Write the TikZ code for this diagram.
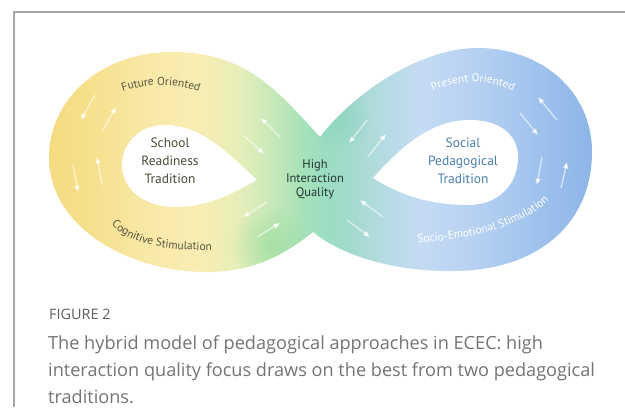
\documentclass[tikz,border=0pt]{standalone}
\usepackage{fontspec}
\setmainfont{Open Sans}
\newfontfamily\lblfont{PT Sans}
\usetikzlibrary{arrows.meta,decorations.text,fadings}

% band colours, left (yellow) to right (blue)
\definecolor{b0}{HTML}{F5DA80}
\definecolor{b1}{HTML}{F6E08D}
\definecolor{b2}{HTML}{F8E9A8}
\definecolor{b3}{HTML}{F8EDB3}
\definecolor{b4}{HTML}{E6EEB9}
\definecolor{b5}{HTML}{C4E8BA}
\definecolor{b6}{HTML}{A8E2B8}
\definecolor{b7}{HTML}{9CDDC2}
\definecolor{b8}{HTML}{A3DACD}
\definecolor{b9}{HTML}{B3DBE0}
\definecolor{b10}{HTML}{C5DBF4}
\definecolor{b11}{HTML}{B8D2F2}
\definecolor{b12}{HTML}{A2C4EE}
\definecolor{b13}{HTML}{8AB3E6}
\definecolor{framegray}{HTML}{A6A6A6}
\definecolor{olivetext}{HTML}{4B4B3B}
\definecolor{arctext}{HTML}{55553F}
\definecolor{slatetext}{HTML}{243535}
\definecolor{bluetext}{HTML}{4C7DB0}
\definecolor{labelgray}{HTML}{5E5E5E}
\definecolor{captiongray}{HTML}{747474}
\definecolor{spotgreen}{HTML}{90DC98}
\definecolor{spotteal}{HTML}{86D2BA}

\tikzfading[name=softspot, inner color=transparent!0, outer color=transparent!100]

\begin{document}
\begin{tikzpicture}[x=1bp,y=-1bp,
  flowarrow/.style={white, draw opacity=0.6, line width=1.3bp,
    -{Triangle[length=6.5bp,width=5bp]}},
  lobelabel/.style={font=\lblfont\fontsize{13.5}{18}\selectfont, align=center, inner sep=0pt},
  corelabel/.style={font=\lblfont\fontsize{12.5}{14}\selectfont, align=center, inner sep=0pt, text=slatetext}]

\useasboundingbox (0,0) rectangle (625,407);
\fill[white] (0,0) rectangle (625,407);
\draw[framegray, line width=1.2bp] (14,407) -- (14,12) -- (625,12);

% figure-of-eight band with a horizontal colour ramp
\begin{scope}
  \clip (320,137) .. controls (275,88) and (245,52) .. (172,52)
    .. controls (100,52) and (49,100) .. (49,157)
    .. controls (49,228) and (130,273) .. (210,272)
    .. controls (260,271) and (290,250) .. (313,232)
    .. controls (345,258) and (400,272) .. (455,271)
    .. controls (540,270) and (592,222) .. (592,152)
    .. controls (592,90) and (540,48) .. (478,48)
    .. controls (420,48) and (355,92) .. (320,137) -- cycle;
  \foreach \xa/\ca/\xb/\cb in {40/b0/90/b1, 90/b1/150/b2, 150/b2/200/b3, 200/b3/240/b4,
      240/b4/275/b5, 275/b5/300/b6, 300/b6/325/b7, 325/b7/350/b8, 350/b8/380/b9,
      380/b9/420/b10, 420/b10/470/b11, 470/b11/530/b12, 530/b12/600/b13}
    \shade[left color=\ca, right color=\cb] (\xa-0.5,30) rectangle (\xb+0.5,290);
  % deeper tints where the band crosses itself
  \fill[spotgreen, path fading=softspot, fill opacity=0.6] (270,245) circle (40);
  \fill[spotteal, path fading=softspot, fill opacity=0.6] (338,118) circle (32);
\end{scope}

% the two inner openings
\fill[white] (257,180) .. controls (225,150) and (200,125) .. (165,125)
  .. controls (138,125) and (122,145) .. (122,165)
  .. controls (122,190) and (145,207) .. (175,207)
  .. controls (210,207) and (235,192) .. (257,180) -- cycle;
\fill[white] (373,178) .. controls (400,148) and (430,120) .. (470,120)
  .. controls (500,120) and (518,135) .. (518,157)
  .. controls (518,185) and (498,205) .. (468,205)
  .. controls (430,205) and (400,195) .. (373,178) -- cycle;

% flow arrows along the band
\foreach \ax/\ay/\bx/\by in {95/95/81/120, 103/130/116/107, 73/165/78/192, 102/185/97/157,
    280/137/261/118, 243/135/264/154, 267/202/243/217, 257/237/280/223,
    367/120/349/143, 368/157/386/134, 383/217/360/200, 347/220/370/237,
    557/120/538/97, 520/113/538/135, 542/157/537/185, 561/188/567/162}
  \draw[flowarrow] (\ax,\ay) -- (\bx,\by);

% labels
\node[lobelabel, text=olivetext] (school) at (170,161) {School\\Readiness\\Tradition};
\node[corelabel] (quality) at (315,179) {High\\Interaction\\Quality};
\node[lobelabel, text=bluetext] (social) at (463,161) {Social\\Pedagogical\\Tradition};

% curved captions along the band
\path[decorate, decoration={text along path, text align=center,
    text={|\lblfont\fontsize{11.5}{13}\selectfont\color{arctext}|Future Oriented}}]
  (114.5,95.3) .. controls (144,81.6) and (178,81.6) .. (207.5,95.3);
\path[decorate, decoration={text along path, text align=center,
    text={|\lblfont\fontsize{11.5}{13}\selectfont\color{arctext}|Cognitive Stimulation}}]
  (108,221) .. controls (128,245) and (165,251) .. (217,250);
\path[decorate, decoration={text along path, text align=center,
    text={|\lblfont\fontsize{11.5}{13}\selectfont\color{white}|Present Oriented}}]
  (418.8,100.7) .. controls (450.6,75.8) and (495.4,75.8) .. (527.2,100.7);
\path[decorate, decoration={text along path, text align=center,
    text={|\lblfont\fontsize{11.5}{13}\selectfont\color{white}|Socio-Emotional Stimulation}}]
  (412,243) .. controls (460,241) and (522,230) .. (553,196);

% figure caption
\node[anchor=base west, inner sep=0pt, text=labelgray,
  font=\fontsize{14.5}{17}\selectfont] (figlabel) at (49,319.5) {FIGURE 2};
\node[anchor=north west, inner sep=0pt, align=left, text=captiongray,
  font=\fontsize{18.2}{27.5}\selectfont] (caption) at (48,335)
  {The hybrid model of pedagogical approaches in ECEC: high\\
   interaction quality focus draws on the best from two pedagogical\\
   traditions.};
\end{tikzpicture}
\end{document}
